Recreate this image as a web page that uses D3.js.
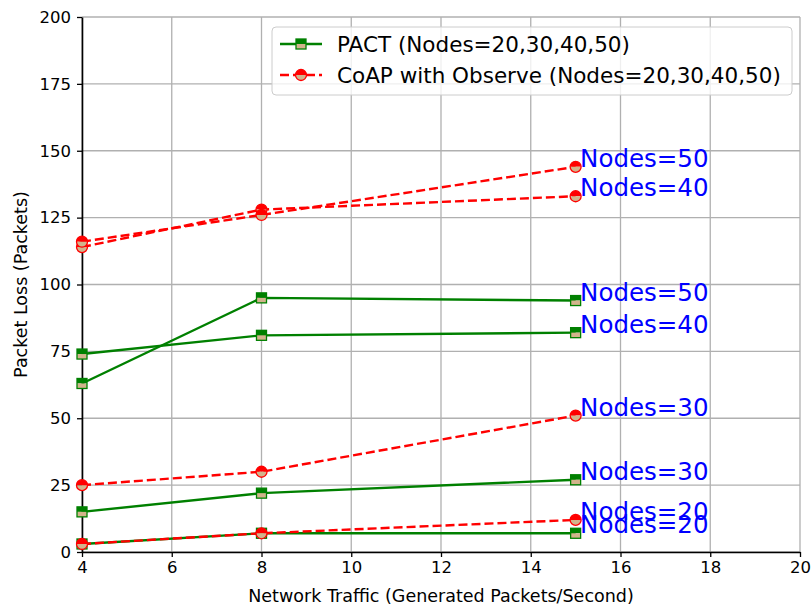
<!DOCTYPE html>
<html>
<head>
<meta charset="utf-8">
<script src="https://cdn.jsdelivr.net/npm/d3@7/dist/d3.min.js"></script>
<style>
  html, body { margin: 0; padding: 0; background: #fff; }
  svg { display: block; font-family: "DejaVu Sans", sans-serif; }
</style>
</head>
<body>
<svg id="chart" width="812" height="610"></svg>
<script>
// Generated traffic rates (packets/second)
const traffic = [4, 8, 15];
const nodeCounts = [20, 30, 40, 50];

// Packet loss per node count, PACT
const pact20 = [3, 7, 7];
const pact30 = [15, 22, 27];
const pact40 = [74, 81, 82];
const pact50 = [63, 95, 94];

// Packet loss per node count, CoAP with Observe
const coap20 = [3, 7, 12];
const coap30 = [25, 30, 51];
const coap40 = [114, 128, 133];
const coap50 = [116, 126, 144];

const xTicks = [4, 6, 8, 10, 12, 14, 16, 18, 20];
const yTicks = [0, 25, 50, 75, 100, 125, 150, 175, 200];

const pactSeries = [pact20, pact30, pact40, pact50];
const coapSeries = [coap20, coap30, coap40, coap50];

const W = 812, H = 610;
const margin = { left: 82, right: 12, top: 17, bottom: 58 };

const svg = d3.select("#chart");
const x = d3.scaleLinear().domain([4, 20]).range([margin.left, W - margin.right]);
const y = d3.scaleLinear().domain([0, 200]).range([H - margin.bottom, margin.top]);

const GREEN = "#008000", RED = "#ff0000", TAN = "#d2b48c", BLUE = "#0000ff";

// grid
const grid = svg.append("g");
grid.selectAll(".gx").data(xTicks).join("line")
  .attr("x1", d => x(d)).attr("x2", d => x(d))
  .attr("y1", y(0)).attr("y2", y(200))
  .attr("stroke", "#b0b0b0").attr("stroke-width", 1.3);
grid.selectAll(".gy").data(yTicks).join("line")
  .attr("x1", x(4)).attr("x2", x(20))
  .attr("y1", d => y(d)).attr("y2", d => y(d))
  .attr("stroke", "#b0b0b0").attr("stroke-width", 1.3);

// axes
const xAxis = svg.append("g")
  .attr("transform", `translate(0,${y(0)})`)
  .call(d3.axisBottom(x).tickValues(xTicks).tickFormat(d3.format("d")).tickSize(5).tickPadding(4).tickSizeOuter(0));
const yAxis = svg.append("g")
  .attr("transform", `translate(${x(4)},0)`)
  .call(d3.axisLeft(y).tickValues(yTicks).tickFormat(d3.format("d")).tickSize(5).tickPadding(6).tickSizeOuter(0));
[xAxis, yAxis].forEach(a => {
  a.select(".domain").attr("stroke", "#000").attr("stroke-width", 1.6);
  a.selectAll(".tick line").attr("stroke", "#000").attr("stroke-width", 1.3);
  a.selectAll(".tick text").attr("fill", "#000").style("font-size", "16.5px")
    .style("font-family", "'DejaVu Sans', sans-serif");
});

svg.append("text")
  .attr("x", (x(4) + x(20)) / 2).attr("y", 602)
  .attr("text-anchor", "middle").style("font-size", "17.5px")
  .text("Network Traffic (Generated Packets/Second)");
svg.append("text")
  .attr("transform", `translate(27,${(y(0) + y(200)) / 2}) rotate(-90)`)
  .attr("text-anchor", "middle").style("font-size", "17.5px")
  .text("Packet Loss (Packets)");

// half-filled markers: upper half in series colour, lower half tan
function squareMarker(g, cx, cy, color) {
  const s = 10;
  g.append("rect").attr("x", cx - s / 2).attr("y", cy - s / 2).attr("width", s).attr("height", s / 2).attr("fill", color);
  g.append("rect").attr("x", cx - s / 2).attr("y", cy).attr("width", s).attr("height", s / 2).attr("fill", TAN);
  g.append("rect").attr("x", cx - s / 2).attr("y", cy - s / 2).attr("width", s).attr("height", s)
    .attr("fill", "none").attr("stroke", color).attr("stroke-width", 1.3);
}
function circleMarker(g, cx, cy, color) {
  const r = 5.5;
  g.append("path").attr("d", `M${cx - r},${cy} A${r},${r} 0 0 1 ${cx + r},${cy} Z`).attr("fill", color);
  g.append("path").attr("d", `M${cx - r},${cy} A${r},${r} 0 0 0 ${cx + r},${cy} Z`).attr("fill", TAN);
  g.append("circle").attr("cx", cx).attr("cy", cy).attr("r", r)
    .attr("fill", "none").attr("stroke", color).attr("stroke-width", 1.3);
}

const line = d3.line().x((d, i) => x(traffic[i])).y(d => y(d));
const plot = svg.append("g");

function drawSeries(vals, color, dashed, marker) {
  plot.append("path").datum(vals).attr("d", line)
    .attr("fill", "none").attr("stroke", color).attr("stroke-width", 2.4)
    .attr("stroke-dasharray", dashed ? "9,4" : null);
  const mg = plot.append("g");
  vals.forEach((v, i) => marker(mg, x(traffic[i]), y(v), color));
}

nodeCounts.forEach((n, k) => {
  drawSeries(pactSeries[k], GREEN, false, squareMarker);
  drawSeries(coapSeries[k], RED, true, circleMarker);
});

// node-count labels at the last traffic rate
const labels = svg.append("g");
nodeCounts.forEach((n, k) => {
  [pactSeries[k], coapSeries[k]].forEach(vals => {
    const last = vals.length - 1;
    labels.append("text")
      .attr("x", x(traffic[last] + 0.1)).attr("y", y(vals[last]))
      .attr("fill", BLUE).style("font-size", "24.5px")
      .text(`Nodes=${n}`);
  });
});

// legend
const lg = svg.append("g");
lg.append("rect").attr("x", 272).attr("y", 27).attr("width", 520).attr("height", 68)
  .attr("rx", 4).attr("fill", "#fff").attr("fill-opacity", 0.8)
  .attr("stroke", "#cccccc").attr("stroke-width", 1);
const legendItems = [
  { label: "PACT (Nodes=20,30,40,50)", color: GREEN, dashed: false, marker: squareMarker },
  { label: "CoAP with Observe (Nodes=20,30,40,50)", color: RED, dashed: true, marker: circleMarker }
];
legendItems.forEach((it, i) => {
  const cy = 44 + i * 31;
  lg.append("line").attr("x1", 280).attr("x2", 322).attr("y1", cy).attr("y2", cy)
    .attr("stroke", it.color).attr("stroke-width", 2.4)
    .attr("stroke-dasharray", it.dashed ? "9,4" : null);
  it.marker(lg, 301, cy, it.color);
  lg.append("text").attr("x", 337).attr("y", cy + 7.5)
    .style("font-size", "21.5px").attr("fill", "#000").text(it.label);
});
</script>
</body>
</html>
